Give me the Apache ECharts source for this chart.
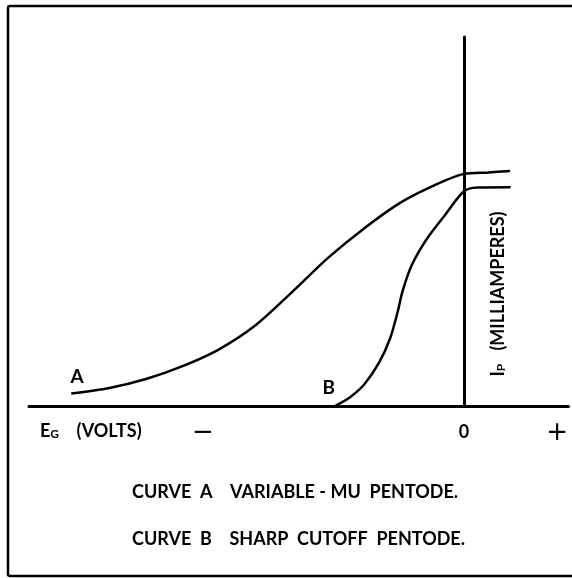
<!DOCTYPE html>
<html>
<head>
<meta charset="utf-8">
<script src="https://cdn.jsdelivr.net/npm/echarts@6/dist/echarts.min.js"></script>
<style>
  html, body { margin: 0; padding: 0; background: #fff; }
  #chart { width: 572px; height: 578px; }
</style>
</head>
<body>
<div id="chart"></div>
<script>
// grid voltage (arbitrary units, 0 = plate current axis) and plate current
var curveAX = [-9.03, -8.15, -7.31, -6.47, -5.64, -4.80, -3.96, -3.12, -2.29, -1.45, -0.61, 0, 0.56, 1.06]
var curveAY = [0.34, 0.49, 0.73, 1.08, 1.53, 2.18, 3.08, 4.02, 4.82, 5.52, 6.02, 6.29, 6.33, 6.37]
var curveBX = [-2.97, -2.62, -2.29, -1.95, -1.70, -1.53, -1.41, -1.20, -0.86, -0.44, 0, 0.31, 1.07]
var curveBY = [0, 0.24, 0.59, 1.18, 1.83, 2.53, 3.12, 3.82, 4.52, 5.17, 5.82, 5.92, 5.93]

var xTickValues = [-6, 0, 2.14]
var xTickLabels = ['−', '0', '+']

var font = 'Lato'

function curveLabel(xs, ys, name, offset) {
  return {
    silent: true,
    symbol: 'circle',
    symbolSize: 1,
    itemStyle: { color: 'rgba(0,0,0,0)' },
    label: {
      show: true,
      position: 'inside',
      formatter: name,
      offset: offset,
      fontFamily: font,
      fontWeight: 'bold',
      fontSize: 19,
      color: '#000'
    },
    data: [{ coord: [xs[0], ys[0]] }]
  }
}

function pairs(xs, ys) {
  return xs.map(function (x, i) { return [x, ys[i]] })
}

var chart = echarts.init(document.getElementById('chart'))

chart.setOption({
  animation: false,
  backgroundColor: '#fff',
  grid: {
    left: 29,
    right: 572 - 568.4,
    top: 37,
    bottom: 578 - 406
  },
  xAxis: {
    type: 'value',
    min: -10,
    max: 2.4,
    splitLine: { show: false },
    axisTick: { show: false },
    axisLine: { onZero: true, lineStyle: { color: '#000', width: 3 } },
    axisLabel: {
      customValues: xTickValues,
      margin: 17,
      color: '#000',
      fontFamily: font,
      fontWeight: 'bold',
      fontSize: 18,
      formatter: function (v) {
        var i = xTickValues.indexOf(v)
        if (i === 1) return xTickLabels[i]
        return '{big|' + xTickLabels[i] + '}'
      },
      rich: {
        big: { fontSize: 26, fontWeight: 'normal', fontFamily: 'DejaVu Sans', color: '#000', lineHeight: 20 }
      }
    }
  },
  yAxis: {
    type: 'value',
    min: 0,
    max: 10,
    splitLine: { show: false },
    axisTick: { show: false },
    axisLabel: { show: false },
    axisLine: { onZero: true, lineStyle: { color: '#000', width: 3 } }
  },
  series: [
    {
      name: 'Curve A',
      type: 'line',
      smooth: 0.3,
      symbol: 'none',
      lineStyle: { color: '#000', width: 2.5 },
      data: pairs(curveAX, curveAY),
      markPoint: curveLabel(curveAX, curveAY, 'A', [6, -17])
    },
    {
      name: 'Curve B',
      type: 'line',
      smooth: 0.3,
      symbol: 'none',
      lineStyle: { color: '#000', width: 2.5 },
      data: pairs(curveBX, curveBY),
      markPoint: curveLabel(curveBX, curveBY, 'B', [-6, -18])
    }
  ],
  graphic: [
    {
      type: 'rect',
      shape: { x: 8, y: 6, width: 600, height: 570, r: 2 },
      style: { fill: 'none', stroke: '#000', lineWidth: 2.5 },
      silent: true
    },
    {
      type: 'text',
      left: 40,
      top: 422,
      style: {
        text: '{e|E}{s|G}{v|    (VOLTS)}',
        rich: {
          e: { fontFamily: font, fontWeight: 'bold', fontSize: 18, fill: '#000' },
          s: { fontFamily: font, fontWeight: 'bold', fontSize: 12, fill: '#000', padding: [7, 0, 0, 0] },
          v: { fontFamily: font, fontWeight: 'bold', fontSize: 18, fill: '#000' }
        }
      }
    },
    {
      type: 'text',
      x: 498,
      y: 294,
      rotation: Math.PI / 2,
      style: {
        text: '{e|I}{s|P}{v|   (MILLIAMPERES)}',
        align: 'center',
        verticalAlign: 'middle',
        rich: {
          e: { fontFamily: font, fontWeight: 'bold', fontSize: 18, fill: '#000' },
          s: { fontFamily: font, fontWeight: 'bold', fontSize: 12, fill: '#000', padding: [7, 0, 0, 0] },
          v: { fontFamily: font, fontWeight: 'bold', fontSize: 18, fill: '#000' }
        }
      }
    },
    {
      type: 'text',
      left: 132,
      top: 483,
      style: {
        text: 'CURVE  A    VARIABLE - MU  PENTODE.',
        fontFamily: font,
        fontWeight: 'bold',
        fontSize: 18,
        fill: '#000'
      }
    },
    {
      type: 'text',
      left: 132,
      top: 530,
      style: {
        text: 'CURVE  B    SHARP  CUTOFF  PENTODE.',
        fontFamily: font,
        fontWeight: 'bold',
        fontSize: 18,
        fill: '#000'
      }
    }
  ]
})
</script>
</body>
</html>
